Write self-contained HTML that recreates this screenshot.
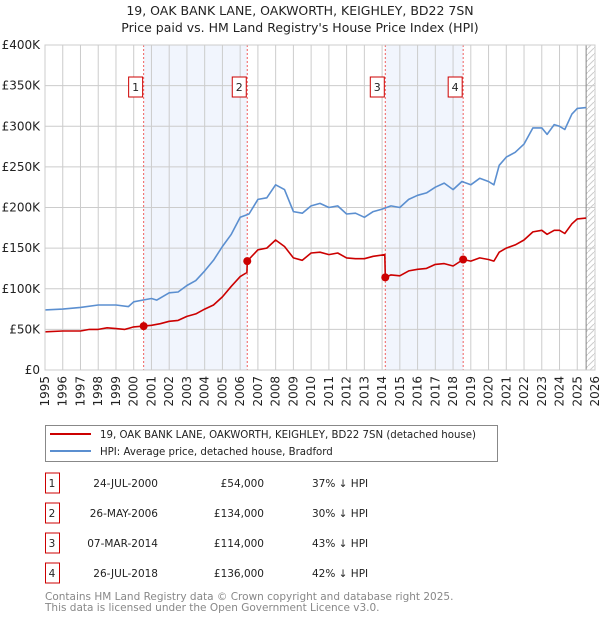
<!DOCTYPE html>
<html><head><meta charset="utf-8"><style>
body{margin:0;background:#fff;width:600px;height:620px;overflow:hidden;font-family:"Liberation Sans","DejaVu Sans",sans-serif}
svg text{font-family:"DejaVu Sans","Liberation Sans",sans-serif}
</style></head><body>
<svg id="c" width="600" height="620">
<defs><pattern id="hatch" width="6" height="6" patternUnits="userSpaceOnUse"><path d="M0,6 L6,0" stroke="#ccc" stroke-width="1"/></pattern></defs>
<text x="300" y="15" text-anchor="middle" font-size="12.5" fill="#222">19, OAK BANK LANE, OAKWORTH, KEIGHLEY, BD22 7SN</text>
<text x="300" y="32" text-anchor="middle" font-size="12.5" fill="#222">Price paid vs. HM Land Registry's House Price Index (HPI)</text>
<g id="plot"></g>
<g>
<rect x="45.5" y="425.5" width="452" height="36" fill="#fff" stroke="#888"/>
<line x1="50" y1="434" x2="91" y2="434" stroke="#cc0000" stroke-width="2"/>
<text x="100" y="438" font-size="10.2" fill="#222">19, OAK BANK LANE, OAKWORTH, KEIGHLEY, BD22 7SN (detached house)</text>
<line x1="50" y1="451" x2="91" y2="451" stroke="#5b8fd0" stroke-width="2"/>
<text x="100" y="455" font-size="10.2" fill="#222">HPI: Average price, detached house, Bradford</text>
</g>
<g id="table"></g>
<text x="45" y="600" font-size="10.5" fill="#888">Contains HM Land Registry data © Crown copyright and database right 2025.</text>
<text x="45" y="611" font-size="10.5" fill="#888">This data is licensed under the Open Government Licence v3.0.</text>
</svg>
<script>
const hpiYears=[1995,1996,1997,1998,1999,1999.7,2000,2000.5,2001,2001.3,2002,2002.5,2003,2003.5,2004,2004.5,2005,2005.5,2006,2006.5,2007,2007.5,2008,2008.5,2009,2009.5,2010,2010.5,2011,2011.5,2012,2012.5,2013,2013.5,2014,2014.5,2015,2015.5,2016,2016.5,2017,2017.5,2018,2018.5,2019,2019.5,2020,2020.3,2020.6,2021,2021.5,2022,2022.5,2023,2023.3,2023.7,2024,2024.3,2024.7,2025,2025.5];
const hpiValues=[74,75,77,80,80,78,84,86,88,86,95,96,104,110,122,135,152,167,188,192,210,212,228,222,195,193,202,205,200,202,192,193,188,195,198,202,200,210,215,218,225,230,222,232,228,236,232,228,252,262,268,278,298,298,290,302,300,296,315,322,323];
const priceYears=[1995,1996,1997,1997.5,1998,1998.5,1999,1999.5,2000,2000.56,2001,2001.5,2002,2002.5,2003,2003.5,2004,2004.5,2005,2005.5,2006,2006.38,2006.4,2007,2007.5,2008,2008.5,2009,2009.5,2010,2010.5,2011,2011.5,2012,2012.5,2013,2013.5,2014.15,2014.18,2014.5,2015,2015.5,2016,2016.5,2017,2017.5,2018,2018.57,2019,2019.5,2020,2020.3,2020.6,2021,2021.5,2022,2022.5,2023,2023.3,2023.7,2024,2024.3,2024.7,2025,2025.5];
const priceValues=[47,48,48,50,50,52,51,50,53,54,55,57,60,61,66,69,75,80,90,103,115,120,134,148,150,160,152,138,135,144,145,142,144,138,137,137,140,142,114,117,116,122,124,125,130,131,128,136,134,138,136,134,145,150,154,160,170,172,167,172,172,168,180,186,187];
const saleLabels=["1","2","3","4"];
const saleYears=[2000.56,2006.4,2014.18,2018.57];
const saleValues=[54,134,114,136];
const saleDates=["24-JUL-2000","26-MAY-2006","07-MAR-2014","26-JUL-2018"];
const salePrices=["£54,000","£134,000","£114,000","£136,000"];
const saleDiffs=["37% ↓ HPI","30% ↓ HPI","43% ↓ HPI","42% ↓ HPI"];
const yTicks=[0,50,100,150,200,250,300,350,400];
const yTickLabels=["£0","£50K","£100K","£150K","£200K","£250K","£300K","£350K","£400K"];
const xTicks=[1995,1996,1997,1998,1999,2000,2001,2002,2003,2004,2005,2006,2007,2008,2009,2010,2011,2012,2013,2014,2015,2016,2017,2018,2019,2020,2021,2022,2023,2024,2025,2026];
const dataEnd=2025.5;

const X0=45,X1=595,Y0=370,Y1=45;
const xs=y=>X0+(y-1995)/(2026-1995)*(X1-X0);
const ys=v=>Y0-v/400*(Y0-Y1);
const NS="http://www.w3.org/2000/svg";
const plot=document.getElementById('plot');
function mk(tag,attrs,parent){const e=document.createElementNS(NS,tag);for(const k in attrs)e.setAttribute(k,attrs[k]);(parent||plot).appendChild(e);return e;}

for(let i=0;i<saleYears.length;i+=2){
 const r=mk('rect',{x:xs(saleYears[i]),y:Y1,width:xs(saleYears[i+1])-xs(saleYears[i]),height:Y0-Y1,fill:'#eef3fc',opacity:0.8});
 
 
}
const h=mk('rect',{x:xs(dataEnd),y:Y1,width:X1-xs(dataEnd),height:Y0-Y1,fill:'url(#hatch)'});


yTicks.forEach((t,i)=>{
 const l=mk('line',{x1:X0,x2:X1,y1:ys(t),y2:ys(t),stroke:'#ccc','stroke-width':1});
 
 
 const tx=mk('text',{x:40,y:ys(t)+4,'text-anchor':'end','font-size':12,fill:'#222'});
 tx.textContent=yTickLabels[i];
 
 
});
xTicks.forEach(t=>{
 const l=mk('line',{x1:xs(t),x2:xs(t),y1:Y1,y2:Y0,stroke:'#ccc','stroke-width':1});
 
 
 const tx=mk('text',{x:0,y:0,'text-anchor':'end','font-size':12,fill:'#222',transform:`translate(${xs(t)+4},${Y0+6}) rotate(-90)`});
 tx.textContent=t;
 
 
});
const de=mk('line',{x1:xs(dataEnd),x2:xs(dataEnd),y1:Y1,y2:Y0,stroke:'#888','stroke-width':1});


saleYears.forEach((y,i)=>{
 const l=mk('line',{x1:xs(y),x2:xs(y),y1:Y1,y2:Y0,stroke:'#f06060','stroke-width':1,'stroke-dasharray':'2,2'});
 
 
 const b=mk('rect',{x:xs(y)-15,y:77,width:14,height:20,fill:'#fff',stroke:'#cc0000','stroke-width':1});
 
 
 const t=mk('text',{x:xs(y)-8,y:91,'text-anchor':'middle','font-size':11,fill:'#222'});
 t.textContent=saleLabels[i];
 
 
});
function line(xa,va,color,name){
 const d=xa.map((x,i)=>(i?'L':'M')+xs(x).toFixed(1)+','+ys(va[i]).toFixed(1)).join(' ');
 const p=mk('path',{d:d,fill:'none',stroke:color,'stroke-width':1.6,'stroke-linejoin':'round'});
 
 
}
line(hpiYears,hpiValues,'#5b8fd0','hpi-line');
line(priceYears,priceValues,'#cc0000','price-paid-line');
saleYears.forEach((y,i)=>{
 const c=mk('circle',{cx:xs(y),cy:ys(saleValues[i]),r:4,fill:'#cc0000'});
 
 
});
const ax=mk('rect',{x:X0,y:Y1,width:X1-X0,height:Y0-Y1,fill:'none',stroke:'#ccc'});


const tb=document.getElementById('table');
saleLabels.forEach((lab,i)=>{
 const cy=483+i*30;
 const r=mk('rect',{x:45.5,y:cy-10,width:14,height:20,fill:'#fff',stroke:'#cc0000'},tb);
 
 
 const cells=[[52,'middle',lab],[158,'end',saleDates[i]],[264,'end',salePrices[i]],[312,'start',saleDiffs[i]]];
 cells.forEach(c=>{
  const t=mk('text',{x:c[0],y:cy+4,'text-anchor':c[1],'font-size':10.5,fill:'#222'},tb);
  t.textContent=c[2];
  
  
 });
});
</script>
</body></html>
